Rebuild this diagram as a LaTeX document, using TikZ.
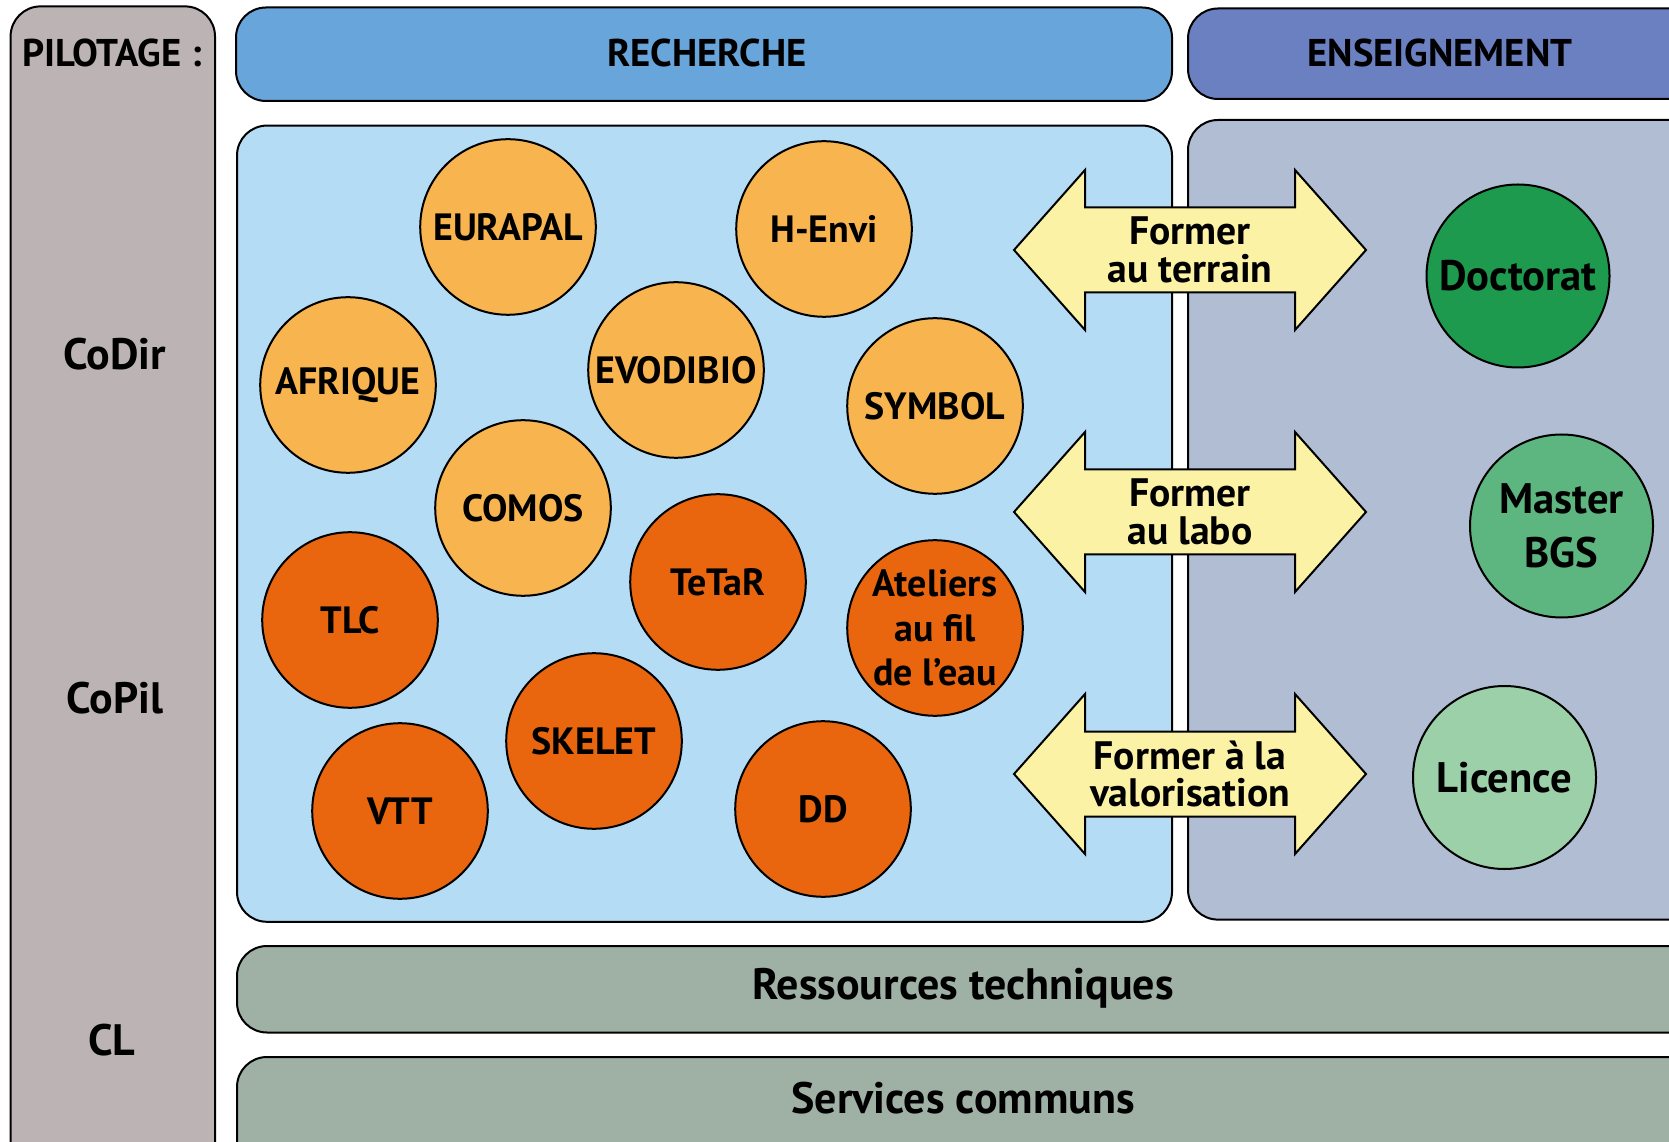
\documentclass[tikz,border=0pt]{standalone}
\usepackage{fontspec}
\setmainfont{PT Sans}
\usepackage{tikz}
\usetikzlibrary{positioning}
\usepackage{xcolor}

\definecolor{pilote}{RGB}{188,179,180}
\definecolor{rechtitre}{RGB}{103,165,218}
\definecolor{enstitre}{RGB}{106,128,192}
\definecolor{rechfond}{RGB}{181,220,245}
\definecolor{ensfond}{RGB}{177,189,211}
\definecolor{barre}{RGB}{159,176,165}
\definecolor{orclair}{RGB}{248,180,78}
\definecolor{orfonce}{RGB}{233,102,15}
\definecolor{vertdoc}{RGB}{30,154,79}
\definecolor{vertmas}{RGB}{93,181,127}
\definecolor{vertlic}{RGB}{155,208,168}
\definecolor{fleche}{RGB}{252,242,166}

\begin{document}
\begin{tikzpicture}[x=0.3pt,y=0.3pt,yscale=-1,xscale=1,
  bloc/.style={draw=black, line width=0.6pt, rounded corners=9pt},
  rond/.style={draw=black, line width=0.6pt},
  fl/.style={draw=black, line width=0.6pt, fill=fleche},
  titre/.style={inner sep=0.75pt, font=\bfseries\fontsize{11.6}{13}\selectfont},
  barlbl/.style={inner sep=0.75pt, font=\bfseries\fontsize{13.2}{15}\selectfont},
  pil/.style={inner sep=0.75pt, font=\bfseries\fontsize{13.2}{15}\selectfont},
  lbl/.style={inner sep=0.75pt, align=center, font=\bfseries\fontsize{11.4}{13.4}\selectfont},
  flbl/.style={inner sep=0.75pt, align=center, font=\bfseries\fontsize{11.9}{11.2}\selectfont},
  ens/.style={inner sep=0.75pt, align=center, font=\bfseries\fontsize{12.8}{16}\selectfont}]
\clip (0,0) rectangle (1669,1142);

%Shape: Rectangle [id:pilotage]
\draw  [bloc, fill=pilote] (10.6,6.4) rectangle (215,1200) ;
%Shape: Rectangle [id:recherche titre]
\draw  [bloc, fill=rechtitre] (236,7.5) rectangle (1172,101) ;
%Shape: Rectangle [id:enseignement titre]
\draw  [bloc, fill=enstitre] (1188,8.5) rectangle (1720,99) ;
%Shape: Rectangle [id:recherche fond]
\draw  [bloc, fill=rechfond] (237,125.6) rectangle (1172,921.8) ;
%Shape: Rectangle [id:enseignement fond]
\draw  [bloc, fill=ensfond] (1188,120) rectangle (1720,919.6) ;
%Shape: Rectangle [id:ressources]
\draw  [bloc, fill=barre] (237,946) rectangle (1720,1032.5) ;
%Shape: Rectangle [id:services]
\draw  [bloc, fill=barre] (237,1057) rectangle (1720,1200) ;

%Shape: Circle [id:eurapal]
\draw  [rond, fill=orclair] (508,227) circle (87.8) ;
%Shape: Circle [id:henvi]
\draw  [rond, fill=orclair] (824,229) circle (87.8) ;
%Shape: Circle [id:afrique]
\draw  [rond, fill=orclair] (348,385) circle (87.8) ;
%Shape: Circle [id:evodibio]
\draw  [rond, fill=orclair] (676,370) circle (87.8) ;
%Shape: Circle [id:symbol]
\draw  [rond, fill=orclair] (935,406) circle (87.8) ;
%Shape: Circle [id:comos]
\draw  [rond, fill=orclair] (523,508) circle (87.8) ;
%Shape: Circle [id:tetar]
\draw  [rond, fill=orfonce] (718,582) circle (87.8) ;
%Shape: Circle [id:tlc]
\draw  [rond, fill=orfonce] (350,620) circle (87.8) ;
%Shape: Circle [id:ateliers]
\draw  [rond, fill=orfonce] (935,628) circle (87.8) ;
%Shape: Circle [id:skelet]
\draw  [rond, fill=orfonce] (594,741) circle (87.8) ;
%Shape: Circle [id:vtt]
\draw  [rond, fill=orfonce] (400,811) circle (87.8) ;
%Shape: Circle [id:dd]
\draw  [rond, fill=orfonce] (823,809) circle (87.8) ;

%Shape: Circle [id:doctorat]
\draw  [rond, fill=vertdoc] (1518,276) circle (91.5) ;
%Shape: Circle [id:master]
\draw  [rond, fill=vertmas] (1561.5,526) circle (91.5) ;
%Shape: Circle [id:licence]
\draw  [rond, fill=vertlic] (1504.5,777.5) circle (91.5) ;

%Shape: Double Arrow [id:terrain]
\draw  [fl] (1014,250) -- (1085,170) -- (1085,207.5) -- (1295,207.5) -- (1295,170) -- (1366,250) -- (1295,330) -- (1295,292.5) -- (1085,292.5) -- (1085,330) -- cycle ;
%Shape: Double Arrow [id:labo]
\draw  [fl] (1014,512) -- (1085,432) -- (1085,469.5) -- (1295,469.5) -- (1295,432) -- (1366,512) -- (1295,592) -- (1295,554.5) -- (1085,554.5) -- (1085,592) -- cycle ;
%Shape: Double Arrow [id:valorisation]
\draw  [fl] (1014,774) -- (1085,694) -- (1085,731.5) -- (1295,731.5) -- (1295,694) -- (1366,774) -- (1295,854) -- (1295,816.5) -- (1085,816.5) -- (1085,854) -- cycle ;

% Text Node
\draw (112,53) node (pilotage) [titre] {PILOTAGE :};
% Text Node
\draw (115,354) node (codir) [pil] {CoDir};
% Text Node
\draw (115,698) node (copil) [pil] {CoPil};
% Text Node
\draw (112,1040) node (cl) [pil] {CL};
% Text Node
\draw (707,53) node (recherche) [titre] {RECHERCHE};
% Text Node
\draw (1440,53) node (enseignement) [titre] {ENSEIGNEMENT};
% Text Node
\draw (963,988) node (ressources) [barlbl] {Ressources techniques};
% Text Node
\draw (963,1098) node (services) [barlbl] {Services communs};

% Text Node
\draw (508,227) node (eurapal) [lbl] {EURAPAL};
% Text Node
\draw (824,229) node (henvi) [lbl] {H-Envi};
% Text Node
\draw (348,385) node (afrique) [lbl] {AFRIQUE};
% Text Node
\draw (676,370) node (evodibio) [lbl] {EVODIBIO};
% Text Node
\draw (935,406) node (symbol) [lbl] {SYMBOL};
% Text Node
\draw (523,508) node (comos) [lbl] {COMOS};
% Text Node
\draw (718,582) node (tetar) [lbl] {TeTaR};
% Text Node
\draw (350,620) node (tlc) [lbl] {TLC};
% Text Node
\draw (935,628) node (ateliers) [lbl] {Ateliers\\au fil\\de l’eau};
% Text Node
\draw (594,741) node (skelet) [lbl] {SKELET};
% Text Node
\draw (400,811) node (vtt) [lbl] {VTT};
% Text Node
\draw (823,809) node (dd) [lbl] {DD};

% Text Node
\draw (1518,276) node (doctorat) [ens] {Doctorat};
% Text Node
\draw (1561.5,526) node (master) [ens] {Master\\BGS};
% Text Node
\draw (1504.5,777.5) node (licence) [ens] {Licence};

% Text Node
\draw (1190,250) node (fterrain) [flbl] {Former\\au terrain};
% Text Node
\draw (1190,512) node (flabo) [flbl] {Former\\au labo};
% Text Node
\draw (1190,774) node (fvalo) [flbl] {Former à la\\valorisation};

\end{tikzpicture}
\end{document}
